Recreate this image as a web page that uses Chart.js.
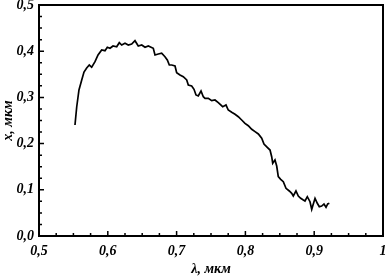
<!DOCTYPE html>
<html><head><meta charset="utf-8">
<script src="https://cdn.jsdelivr.net/npm/chart.js@4/dist/chart.umd.min.js"></script>
<style>html,body{margin:0;padding:0;background:#fff}#wrap{width:386px;height:278px}</style>
</head><body><div id="wrap"><canvas id="c" width="386" height="278"></canvas></div>
<script>
const lambda = [0.5523,0.5548,0.5581,0.5621,0.5654,0.5693,0.5731,0.5766,0.5814,0.5858,0.5911,0.5959,0.5993,0.6032,0.6076,0.6129,0.6167,0.6202,0.6250,0.6298,0.6347,0.6395,0.6443,0.6493,0.6541,0.6589,0.6661,0.6686,0.6734,0.6783,0.6831,0.6865,0.6894,0.6929,0.6977,0.7001,0.7049,0.7097,0.7147,0.7170,0.7219,0.7253,0.7282,0.7315,0.7355,0.7388,0.7413,0.7461,0.7510,0.7558,0.7606,0.7670,0.7718,0.7751,0.7801,0.7849,0.7897,0.7946,0.7994,0.8042,0.8092,0.8140,0.8188,0.8237,0.8270,0.8318,0.8358,0.8382,0.8397,0.8430,0.8455,0.8478,0.8513,0.8551,0.8590,0.8638,0.8673,0.8696,0.8735,0.8769,0.8804,0.8842,0.8866,0.8900,0.8939,0.8964,0.8987,0.9012,0.9045,0.9074,0.9109,0.9142,0.9172,0.9196,0.9220];
const xValues = [0.2403,0.2792,0.3160,0.3377,0.3550,0.3636,0.3701,0.3652,0.3773,0.3918,0.4026,0.4011,0.4084,0.4063,0.4113,0.4097,0.4184,0.4134,0.4171,0.4134,0.4156,0.4227,0.4113,0.4134,0.4084,0.4113,0.4063,0.3918,0.3939,0.3955,0.3881,0.3810,0.3701,0.3701,0.3680,0.3535,0.3485,0.3448,0.3377,0.3268,0.3247,0.3175,0.3052,0.3030,0.3139,0.3015,0.2981,0.2981,0.2929,0.2944,0.2885,0.2799,0.2835,0.2727,0.2677,0.2634,0.2582,0.2511,0.2439,0.2387,0.2310,0.2258,0.2208,0.2115,0.1991,0.1920,0.1861,0.1716,0.1574,0.1645,0.1515,0.1284,0.1227,0.1175,0.1032,0.0974,0.0924,0.0866,0.0974,0.0866,0.0816,0.0779,0.0758,0.0851,0.0742,0.0578,0.0693,0.0816,0.0708,0.0634,0.0649,0.0693,0.0621,0.0693,0.0708];
const xMajorTicks = [0.5,0.6,0.7,0.8,0.9,1.0];
const yMajorTicks = [0.0,0.1,0.2,0.3,0.4,0.5];
const xTitle = 'λ, мкм';
const yTitle = 'x, мкм';

const fmt = v => (Math.abs(v-1)<1e-9) ? '1' : v.toFixed(1).replace('.', ',');
const FONT = {family:'"Liberation Serif", "DejaVu Serif", serif', size:14, style:'italic', weight:'bold'};

const frame = {
  id:'frame',
  afterDraw(chart){
    const {ctx, chartArea:a, scales:{x,y}} = chart;
    ctx.save();
    ctx.strokeStyle='#000';
    ctx.lineWidth=1.5;
    ctx.beginPath();
    for(let i=0;i<=20;i++){
      const v=0.5+i*0.025, px=x.getPixelForValue(v), len=(i%4===0)?5:3;
      ctx.moveTo(px,a.bottom); ctx.lineTo(px,a.bottom-len);
    }
    for(let i=0;i<=20;i++){
      const v=i*0.025, py=y.getPixelForValue(v), len=(i%4===0)?5:3;
      ctx.moveTo(a.left,py); ctx.lineTo(a.left+len,py);
    }
    ctx.stroke();
    ctx.lineWidth=2;
    ctx.strokeRect(a.left,a.top,a.right-a.left,a.bottom-a.top);
    ctx.restore();
  }
};

new Chart(document.getElementById('c'),{
  type:'line',
  data:{datasets:[{data:lambda.map((l,i)=>({x:l,y:xValues[i]})),borderColor:'#000',borderWidth:1.7,pointRadius:0,tension:0,fill:false}]},
  options:{
    responsive:false,animation:false,
    layout:{padding:{left:0,right:3,top:5,bottom:0}},
    plugins:{legend:{display:false},tooltip:{enabled:false}},
    scales:{
      x:{type:'linear',min:0.5,max:1,
        afterBuildTicks(s){s.ticks=xMajorTicks.map(v=>({value:v}));},
        afterFit(s){s.height=42;s.paddingLeft=0;s.paddingRight=0;},
        grid:{display:false,drawTicks:false},border:{display:false},
        ticks:{color:'#000',font:FONT,padding:7,maxRotation:0,callback:v=>fmt(v)},
        title:{display:true,text:xTitle,color:'#000',font:FONT,padding:{top:0,bottom:0}}},
      y:{type:'linear',min:0,max:0.5,
        afterBuildTicks(s){s.ticks=yMajorTicks.map(v=>({value:v}));},
        afterFit(s){s.width=39;s.paddingTop=0;s.paddingBottom=0;},
        grid:{display:false,drawTicks:false},border:{display:false},
        ticks:{color:'#000',font:FONT,padding:5,callback:v=>fmt(v)},
        title:{display:true,text:yTitle,color:'#000',font:FONT,padding:{top:0,bottom:0}}}
    }
  },
  plugins:[frame]
});
</script></body></html>
